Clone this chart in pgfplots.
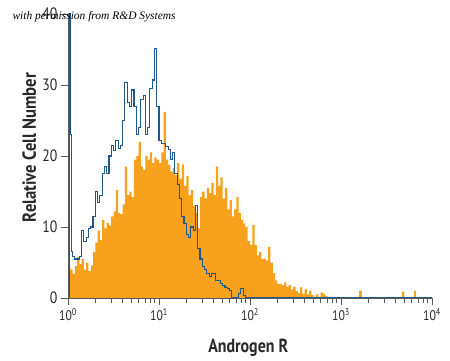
\documentclass[border=0pt]{standalone}
\usepackage{pgfplots}
\pgfplotsset{compat=1.18}
\usepackage{fontspec}
\setmainfont{PT Sans}
\newfontfamily\condfont{PT Sans}[FakeStretch=0.84]
\newfontfamily\ylabfont{PT Sans}[FakeStretch=0.88]
\newfontfamily\wmfont{Liberation Serif}
\definecolor{historange}{RGB}{247,161,28}
\definecolor{histblue}{RGB}{30,88,140}
\definecolor{axgray}{RGB}{90,90,90}
\definecolor{txtgray}{RGB}{40,40,40}
\begin{document}
\begin{tikzpicture}[x=1bp,y=1bp]
\useasboundingbox (0,0) rectangle (450,360);
\begin{axis}[
  at={(68bp,62bp)}, anchor=south west,
  scale only axis, width=364bp, height=284bp,
  xmin=0, xmax=4, ymin=0, ymax=40,
  axis x line*=bottom, axis y line*=left,
  axis line style={axgray, line width=0.9pt},
  axis on top=true,
  tick align=outside,
  major tick length=7bp, minor tick length=4.5bp,
  every tick/.style={axgray, line width=0.7pt},
  xtick={0,1,2,3,4},
  xticklabels={10\textsuperscript{0},10\textsuperscript{1},10\textsuperscript{2},10\textsuperscript{3},10\textsuperscript{4}},
  minor xtick={0.301,0.477,0.602,0.699,0.778,0.845,0.903,0.954,
               1.301,1.477,1.602,1.699,1.778,1.845,1.903,1.954,
               2.301,2.477,2.602,2.699,2.778,2.845,2.903,2.954,
               3.301,3.477,3.602,3.699,3.778,3.845,3.903,3.954},
  ytick={0,10,20,30,40},
  /pgf/number format/assume math mode=true,
  xticklabel style={font=\condfont\fontsize{14}{16}\selectfont, text=txtgray},
  yticklabel style={font=\condfont\fontsize{16.5}{18}\selectfont, text=txtgray},
  xlabel={Androgen R},
  ylabel={Relative Cell Number},
  xlabel style={font=\condfont\bfseries\fontsize{19}{22}\selectfont, text=txtgray,
    at={(axis description cs:0.495,-0.132)}, anchor=north},
  ylabel style={font=\ylabfont\bfseries\fontsize{19}{22}\selectfont, text=txtgray,
    at={(axis description cs:-0.135,0.53)}, anchor=north},
  clip=true,
]
\addplot[const plot mark left, fill=historange, draw=none] coordinates {
(0.000,4.2) (0.025,4.0) (0.050,3.4) (0.075,4.5) (0.100,5.8) (0.125,4.8)
(0.150,5.5) (0.175,4.0) (0.200,5.0) (0.225,3.8) (0.250,4.6) (0.275,6.5)
(0.300,7.8) (0.325,9.5) (0.350,8.2) (0.375,11.0) (0.400,9.8) (0.425,10.6)
(0.450,10.2) (0.475,11.5) (0.500,12.2) (0.525,15.2) (0.550,12.0) (0.575,11.8)
(0.600,13.2) (0.625,18.5) (0.650,14.5) (0.675,15.0) (0.700,14.2) (0.725,19.5)
(0.750,20.0) (0.775,22.0) (0.800,18.5) (0.825,18.0) (0.850,20.0) (0.875,19.5)
(0.900,20.5) (0.925,19.0) (0.950,19.8) (0.975,19.5) (1.000,19.0) (1.025,20.5)
(1.050,26.2) (1.075,19.5) (1.100,18.8) (1.125,17.8) (1.150,18.3) (1.175,17.3)
(1.200,19.0) (1.225,16.8) (1.250,18.8) (1.275,15.8) (1.300,17.2) (1.325,14.5)
(1.350,15.2) (1.375,13.0) (1.400,12.0) (1.425,9.8) (1.450,14.2) (1.475,15.0)
(1.500,14.0) (1.525,15.5) (1.550,14.8) (1.575,16.2) (1.600,14.5) (1.625,18.5)
(1.650,15.8) (1.675,17.0) (1.700,14.0) (1.725,15.5) (1.750,12.5) (1.775,13.8)
(1.800,11.5) (1.825,12.5) (1.850,14.2) (1.875,12.0) (1.900,11.0) (1.925,10.5)
(1.950,10.0) (1.975,8.0) (2.000,7.5) (2.025,10.3) (2.050,7.5) (2.075,6.0)
(2.100,6.5) (2.125,5.5) (2.150,5.5) (2.175,5.3) (2.200,7.2) (2.225,5.0)
(2.250,3.5) (2.275,2.5) (2.300,2.0) (2.325,2.0) (2.350,1.8) (2.375,2.2)
(2.400,1.6) (2.425,1.8) (2.450,1.2) (2.475,1.6) (2.500,1.0) (2.525,0.7)
(2.550,1.5) (2.575,0.6) (2.600,1.3) (2.625,0.5) (2.650,1.0) (2.675,0.4)
(2.700,0.0) (2.725,0.5) (2.750,0.0) (2.775,0.8) (2.800,0.6) (2.825,0.3)
(2.850,0.0) (3.200,1.0) (3.230,0.0) (3.670,0.9) (3.695,0.0) (3.800,1.0)
(3.825,0.0) (4.000,0.0)
} \closedcycle;
\addplot[const plot mark left, histblue, line width=1.1pt] coordinates {
(0.000,0.0) (0.015,40) (0.025,23) (0.035,6.5) (0.050,5.8) (0.075,5.5)
(0.100,5.5) (0.125,5.8) (0.150,9.5) (0.175,8.0) (0.200,8.5) (0.225,9.8)
(0.250,10.0) (0.275,11.5) (0.300,15.0) (0.325,13.5) (0.350,14.5) (0.375,17.5)
(0.400,18.5) (0.425,17.5) (0.450,20.0) (0.475,21.5) (0.500,20.8) (0.525,22.2)
(0.550,21.0) (0.575,21.5) (0.600,25.0) (0.625,30.3) (0.650,27.5) (0.675,27.0)
(0.700,29.3) (0.725,27.0) (0.750,23.0) (0.775,24.0) (0.800,28.0) (0.825,28.5)
(0.850,23.0) (0.875,24.0) (0.900,29.5) (0.925,30.7) (0.950,35.2) (0.975,27.0)
(1.000,22.2) (1.025,21.8) (1.050,21.8) (1.075,21.3) (1.100,20.9) (1.125,19.5)
(1.150,20.5) (1.175,17.5) (1.200,16.0) (1.225,14.0) (1.250,11.5) (1.275,10.5)
(1.300,9.0) (1.325,8.5) (1.350,10.0) (1.375,9.5) (1.400,13.0) (1.425,7.0)
(1.450,5.5) (1.475,4.5) (1.500,4.0) (1.525,3.5) (1.550,3.0) (1.575,3.5)
(1.600,3.5) (1.625,2.5) (1.650,2.5) (1.675,2.0) (1.700,1.8) (1.725,1.5)
(1.750,1.3) (1.775,1.0) (1.800,0.0) (1.875,0.6) (1.900,1.3) (1.925,0.3)
(1.950,0.0) (4.000,0.0)
};
\end{axis}
\node[anchor=west, font=\wmfont\itshape\fontsize{11.5}{13}\selectfont, text=black] at (9,343) {with permission from R\&D Systems};
\end{tikzpicture}
\end{document}
